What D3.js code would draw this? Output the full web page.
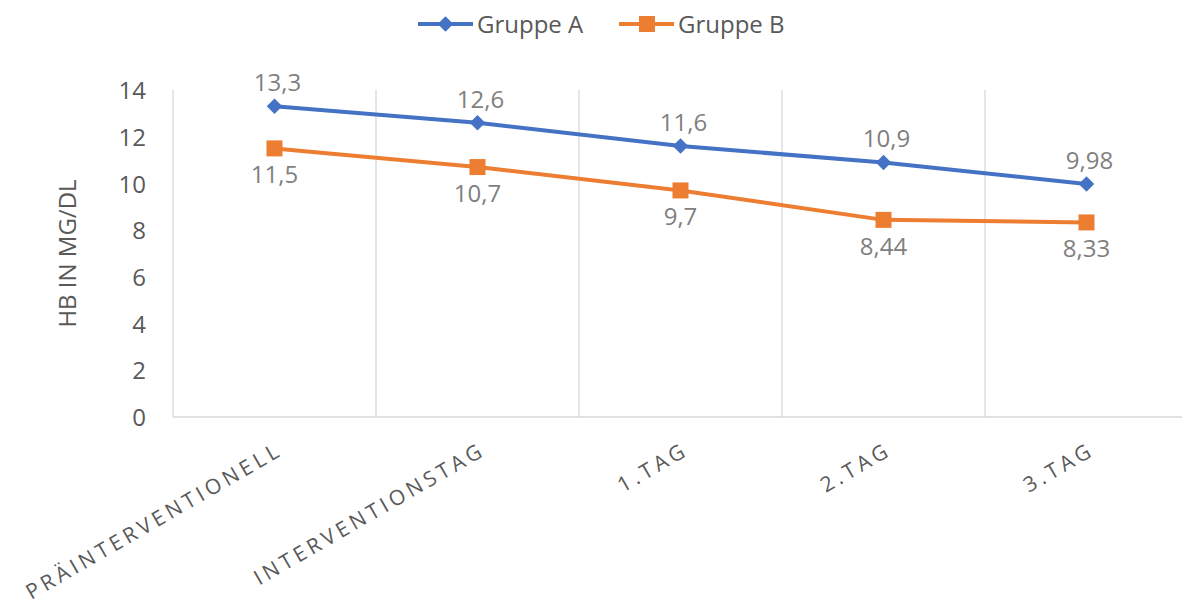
<!DOCTYPE html>
<html>
<head>
<meta charset="utf-8">
<script src="https://cdn.jsdelivr.net/npm/d3@7"></script>
<style>
  html, body { margin: 0; padding: 0; background: #fff; }
  svg { display: block; font-family: "Open Sans", "Noto Sans", sans-serif; }
</style>
</head>
<body>
<svg id="chart" width="1182" height="605"></svg>
<script>
// Hb values per measurement time
const categories = ["PRÄINTERVENTIONELL", "INTERVENTIONSTAG", "1.TAG", "2.TAG", "3.TAG"];
const groupA = [13.3, 12.6, 11.6, 10.9, 9.98];
const groupB = [11.5, 10.7, 9.7, 8.44, 8.33];
const seriesNames = ["Gruppe A", "Gruppe B"];
const yTicks = [0, 2, 4, 6, 8, 10, 12, 14];
const yTitle = "HB IN MG/DL";

const colors = ["#4472C4", "#ED7D31"];
const textColor = "#595959";
const gridColor = "#D9D9D9";

const svg = d3.select("#chart");

const x = d3.scaleBand().domain(categories).range([173, 1188]).paddingInner(0).paddingOuter(0);
const y = d3.scaleLinear().domain([0, 14]).range([417, 90]);

const fmt = v => String(v).replace(".", ",");

// vertical gridlines at category boundaries
const bounds = categories.map(c => x(c)).concat([x.range()[1]]);
svg.append("g").selectAll("line").data(bounds.slice(1)).join("line")
  .attr("x1", d => d).attr("x2", d => d)
  .attr("y1", y(14)).attr("y2", y(0))
  .attr("stroke", gridColor).attr("stroke-width", 1.3);

// axis lines
svg.append("line").attr("x1", x.range()[0]).attr("x2", x.range()[0])
  .attr("y1", y(14)).attr("y2", y(0)).attr("stroke", gridColor).attr("stroke-width", 1.3);
svg.append("line").attr("x1", x.range()[0]).attr("x2", x.range()[1])
  .attr("y1", y(0)).attr("y2", y(0)).attr("stroke", gridColor).attr("stroke-width", 1.3);

// y axis labels
const yAxis = d3.axisLeft(y).tickValues(yTicks).tickSize(0).tickPadding(0).tickFormat(d3.format("d"));
const gy = svg.append("g").attr("transform", "translate(146,0)").call(yAxis);
gy.select(".domain").remove();
gy.selectAll("text").attr("fill", textColor).style("font-size", "24px")
  .style("font-family", "'Open Sans', sans-serif").attr("dy", "0.36em");

// y axis title
svg.append("text")
  .attr("transform", `translate(76,${(y(0) + y(14)) / 2}) rotate(-90)`)
  .attr("text-anchor", "middle")
  .attr("fill", textColor).style("font-size", "24px")
  .text(yTitle);

// x axis category labels (rotated)
const xAxis = d3.axisBottom(x).tickSize(0).tickPadding(0);
const gx = svg.append("g").attr("transform", `translate(0,${y(0)})`).call(xAxis);
gx.select(".domain").remove();
gx.selectAll("text")
  .attr("fill", textColor).style("font-size", "21px")
  .style("font-family", "'Open Sans', sans-serif")
  .style("letter-spacing", "4px")
  .attr("text-anchor", "end")
  .attr("x", 0).attr("y", 0).attr("dy", "0.72em")
  .attr("transform", "translate(2,24) rotate(-30)");

const line = d3.line().x((d, i) => x(categories[i]) + x.bandwidth() / 2).y(d => y(d));
const series = [groupA, groupB];

series.forEach((vals, si) => {
  svg.append("path").datum(vals)
    .attr("d", line).attr("fill", "none")
    .attr("stroke", colors[si]).attr("stroke-width", 4)
    .attr("stroke-linejoin", "round");
});

// markers
svg.append("g").selectAll("path").data(groupA).join("path")
  .attr("transform", (d, i) => `translate(${x(categories[i]) + x.bandwidth() / 2},${y(d)}) rotate(45)`)
  .attr("d", d3.symbol().type(d3.symbolSquare).size(120))
  .attr("fill", colors[0]);
svg.append("g").selectAll("rect").data(groupB).join("rect")
  .attr("x", (d, i) => x(categories[i]) + x.bandwidth() / 2 - 8)
  .attr("y", d => y(d) - 8)
  .attr("width", 16).attr("height", 16)
  .attr("fill", colors[1]);

// data labels
svg.append("g").selectAll("text").data(groupA).join("text")
  .attr("x", (d, i) => x(categories[i]) + x.bandwidth() / 2 + 3)
  .attr("y", d => y(d) - 15)
  .attr("text-anchor", "middle").attr("fill", "#7F7F7F")
  .style("font-size", "24px").text(fmt);
svg.append("g").selectAll("text").data(groupB).join("text")
  .attr("x", (d, i) => x(categories[i]) + x.bandwidth() / 2)
  .attr("y", d => y(d) + 35)
  .attr("text-anchor", "middle").attr("fill", "#7F7F7F")
  .style("font-size", "24px").text(fmt);

// legend
const legend = svg.append("g");
const legendX = [418, 619];
seriesNames.forEach((name, i) => {
  const g = legend.append("g").attr("transform", `translate(${legendX[i]},24)`);
  g.append("line").attr("x1", 0).attr("x2", 55).attr("y1", 0).attr("y2", 0)
    .attr("stroke", colors[i]).attr("stroke-width", 4);
  if (i === 0) {
    g.append("path").attr("transform", "translate(27.5,0) rotate(45)")
      .attr("d", d3.symbol().type(d3.symbolSquare).size(120)).attr("fill", colors[i]);
  } else {
    g.append("rect").attr("x", 20).attr("y", -8).attr("width", 16).attr("height", 16).attr("fill", colors[i]);
  }
  g.append("text").attr("x", 59).attr("y", 0).attr("dy", "0.36em")
    .attr("fill", textColor).style("font-size", "24px").text(name);
});
</script>
</body>
</html>
